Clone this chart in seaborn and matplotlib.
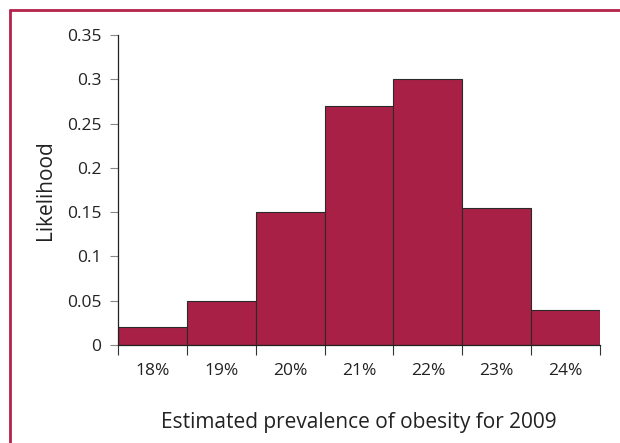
import matplotlib
matplotlib.use('Agg')
import matplotlib.pyplot as plt
import seaborn as sns
import pandas as pd
from matplotlib.lines import Line2D

categorias = ['18%', '19%', '20%', '21%', '22%', '23%', '24%']
probabilidad = [0.02, 0.05, 0.15, 0.27, 0.30, 0.155, 0.04]
yticks = [0, 0.05, 0.1, 0.15, 0.2, 0.25, 0.3, 0.35]

sns.set_style('white')
plt.rcParams['font.family'] = ['Open Sans', 'DejaVu Sans']

df = pd.DataFrame({'cat': categorias, 'p': probabilidad})

fig = plt.figure(figsize=(6.2, 4.43), dpi=100)
ax = fig.add_axes([118/620, 98/443, 482/620, 310/443])

sns.barplot(data=df, x='cat', y='p', color='#A92046', saturation=1, width=1,
            edgecolor='#2a2a2a', linewidth=0.8, ax=ax)

ax.set_xlim(-0.5, len(categorias) - 0.5)
ax.set_ylim(0, 0.35)
ax.set_yticks(yticks)
ax.set_yticklabels([f'{v:g}' for v in yticks])

# marcas en los limites de las barras, etiquetas en el centro
ax.set_xticks([i - 0.5 for i in range(len(categorias) + 1)])
ax.set_xticklabels([])
ax.set_xticks(range(len(categorias)), minor=True)
ax.set_xticklabels(categorias, minor=True)
ax.tick_params(axis='x', which='major', length=7, width=0.8, color='#333333', direction='out')
ax.tick_params(axis='x', which='minor', length=0, pad=13, labelsize=12.5, labelcolor='#222222')
ax.tick_params(axis='y', length=6, width=0.8, color='#888888', direction='out', pad=6,
               labelsize=12.5, labelcolor='#222222')
ax.tick_params(bottom=True, left=True, which='both')

for s in ['top', 'right']:
    ax.spines[s].set_visible(False)
for s in ['left', 'bottom']:
    ax.spines[s].set_color('#222222')
    ax.spines[s].set_linewidth(0.9)

ax.set_xlabel('Estimated prevalence of obesity for 2009', fontsize=15, color='#222222', labelpad=24)
ax.set_ylabel('Likelihood', fontsize=15, color='#222222', labelpad=8)

# marco rojo de la figura
fig.add_artist(Line2D([10/620, 1], [1 - 10/443, 1 - 10/443], color='#B5224C', lw=2, transform=fig.transFigure))
fig.add_artist(Line2D([10/620, 10/620], [0, 1 - 10/443], color='#B5224C', lw=2, transform=fig.transFigure))

fig.savefig('out.png', dpi=100)
